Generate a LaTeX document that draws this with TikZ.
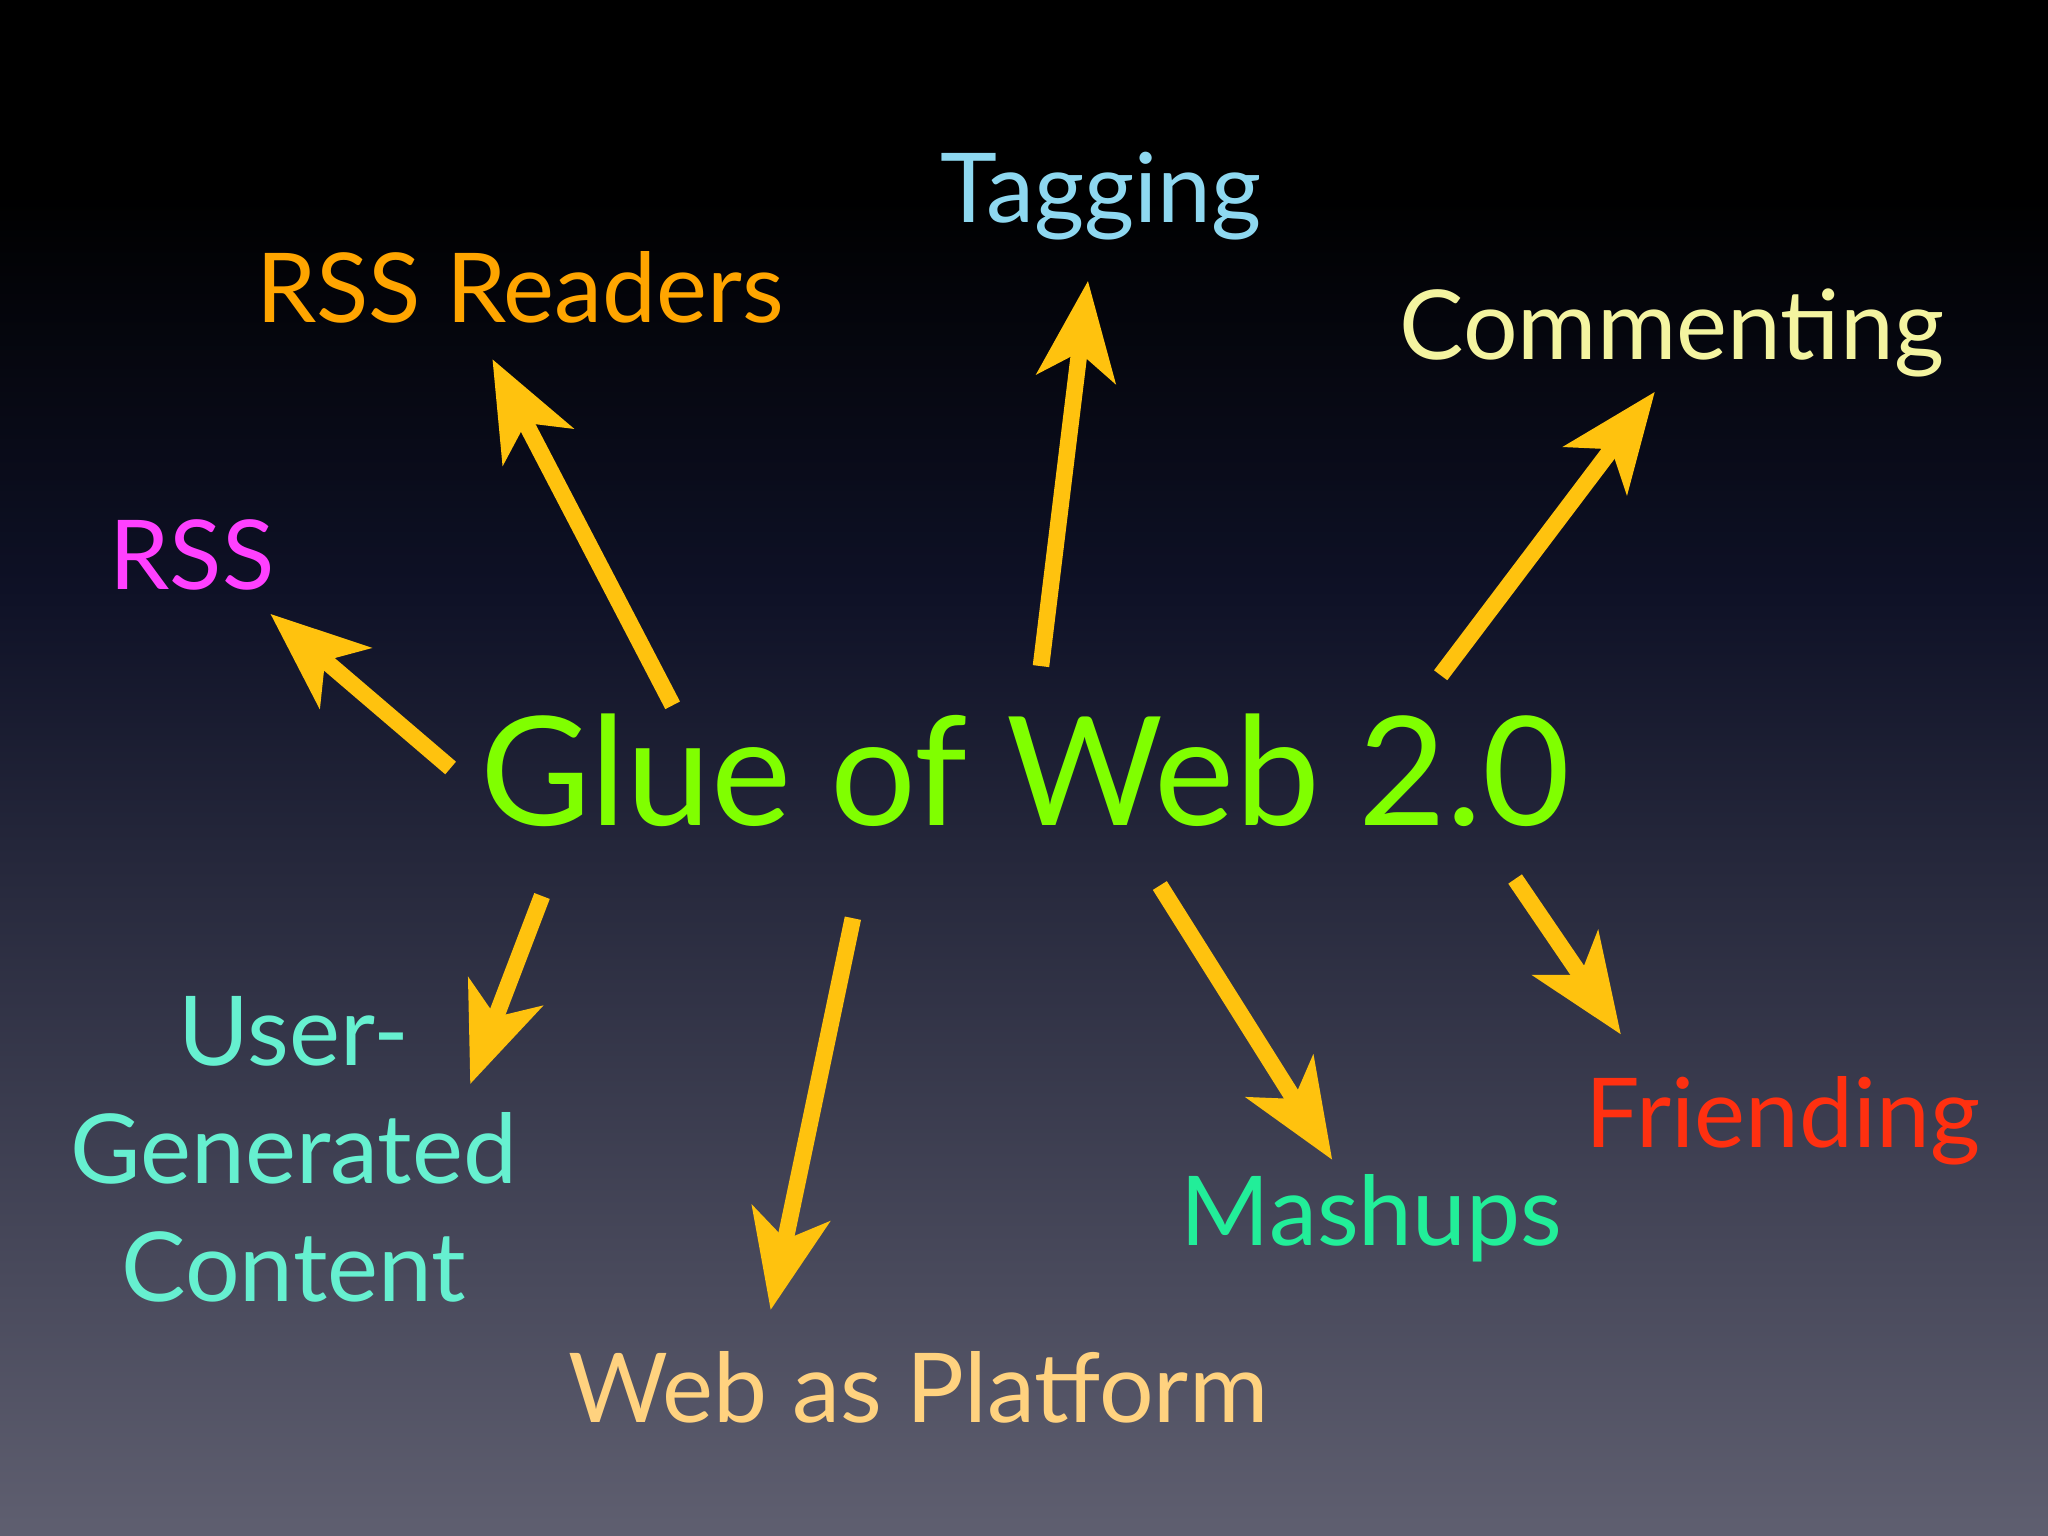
\documentclass[tikz,border=0pt]{standalone}
\usepackage{fontspec}
\setmainfont{Lato}
\usetikzlibrary{arrows.meta}
\definecolor{navy}{RGB}{14,17,38}
\begin{document}
\begin{tikzpicture}[x=0.01cm,y=-0.01cm,
  arr/.style={line width=3.6pt,draw={rgb,255:red,255;green,194;blue,14},-{Stealth[length=0.75cm,width=0.6cm,inset=0.2cm]}},
  lbl/.style={font=\fontsize{21}{25}\selectfont,align=center}]
\fill[black] (0,0) rectangle (1568,150);
\shade[top color=black,bottom color=navy] (0,149) rectangle (1568,451);
\shade[top color=navy,bottom color={rgb,255:red,95;green,95;blue,112}] (0,450) rectangle (1568,1176);
\node[font=\fontsize{33}{40}\selectfont,text={rgb,255:red,128;green,255;blue,0}] (glue) at (785,590) {Glue of Web 2.0};
\node[lbl,text={rgb,255:red,142;green,216;blue,240}] (tag) at (843,150) {Tagging};
\node[lbl,text={rgb,255:red,255;green,165;blue,0}] (rssr) at (398,220) {RSS Readers};
\node[lbl,text={rgb,255:red,244;green,244;blue,160}] (comm) at (1280,255) {Commenting};
\node[lbl,text={rgb,255:red,255;green,64;blue,255}] (rss) at (147,425) {RSS};
\node[lbl,text={rgb,255:red,102;green,240;blue,208},font=\fontsize{21}{25.6}\selectfont] (ugc) at (225,880) {User-\\Generated\\Content};
\node[lbl,text={rgb,255:red,255;green,210;blue,127}] (wap) at (703,1062) {Web as Platform};
\node[lbl,text={rgb,255:red,34;green,238;blue,153}] (mash) at (1050,933) {Mashups};
\node[lbl,text={rgb,255:red,255;green,48;blue,16}] (fri) at (1365,858) {Friending};
\coordinate (s1) at (345,588); \coordinate (e1) at (207,470);
\coordinate (s2) at (515,540); \coordinate (e2) at (377,275);
\coordinate (s3) at (797,510); \coordinate (e3) at (833,215);
\coordinate (s4) at (1103,517); \coordinate (e4) at (1267,300);
\coordinate (s5) at (415,686); \coordinate (e5) at (360,830);
\coordinate (s6) at (653,703); \coordinate (e6) at (590,1003);
\coordinate (s7) at (888,678); \coordinate (e7) at (1020,888);
\coordinate (s8) at (1160,673); \coordinate (e8) at (1241,792);
\foreach \i in {1,...,8} \draw[arr] (s\i) -- (e\i);
\end{tikzpicture}
\end{document}
